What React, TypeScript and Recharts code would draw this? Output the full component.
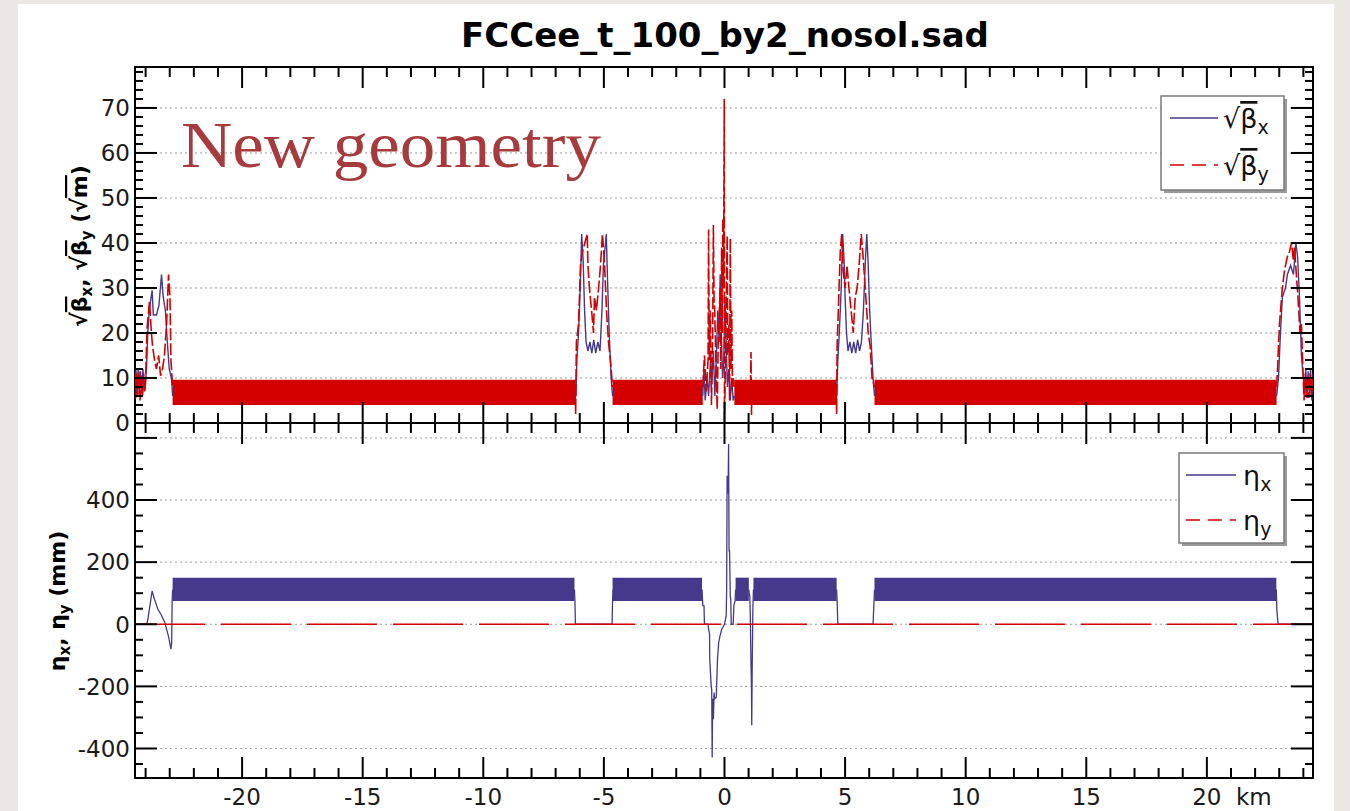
import {
  Area,
  ComposedChart,
  Line,
  ReferenceArea,
  ReferenceLine,
  XAxis,
  YAxis,
} from 'recharts'

type Pt = { s: number; v: number | null }

// optics along the ring, s in km from the IP; null breaks the trace over the arcs
const sqrtBetaX: [number, number | null][] = [
  [-24.44, 7], [-24.4, 12], [-24.36, 6.5], [-24.31, 12], [-24.26, 6], [-24.21, 11.5],
  [-24.16, 6.5], [-24.11, 12], [-24.06, 7], [-24.0, 9], [-23.95, 14], [-23.91, 20],
  [-23.85, 25], [-23.73, 29.5], [-23.68, 24], [-23.55, 24], [-23.45, 26], [-23.34, 33],
  [-23.27, 28], [-23.18, 25], [-23.1, 18], [-23.02, 12], [-22.93, 10], [-22.88, 6],
  [-14.5, null],
  [-6.16, 6], [-6.12, 14], [-6.05, 20], [-5.98, 30], [-5.92, 42], [-5.86, 36], [-5.8, 25],
  [-5.74, 18], [-5.66, 16], [-5.58, 18], [-5.5, 15.5], [-5.42, 18.5], [-5.34, 15.5],
  [-5.25, 18], [-5.16, 16], [-5.08, 25], [-5.02, 35], [-4.9, 42], [-4.85, 32], [-4.78, 20],
  [-4.7, 10], [-4.64, 6],
  [-2.8, null],
  [-0.9, 6], [-0.85, 12], [-0.8, 5], [-0.72, 10], [-0.66, 6], [-0.58, 14], [-0.54, 8],
  [-0.46, 16], [-0.4, 6], [-0.34, 14], [-0.28, 25], [-0.22, 18], [-0.18, 33], [-0.13, 20],
  [-0.08, 10], [-0.03, 14], [0.02, 28], [0.07, 18], [0.12, 8], [0.18, 12], [0.24, 5],
  [0.3, 10], [0.36, 5], [0.41, 6],
  [2.5, null],
  [4.65, 6], [4.7, 14], [4.76, 20], [4.84, 30], [4.9, 42], [4.96, 36], [5.0, 28], [5.06, 20],
  [5.12, 16], [5.2, 18], [5.28, 15.5], [5.36, 18], [5.44, 15.5], [5.52, 18.5], [5.6, 16],
  [5.68, 18], [5.76, 25], [5.84, 36], [5.9, 42], [5.96, 35], [6.02, 25], [6.1, 16],
  [6.16, 10], [6.22, 6],
  [14.5, null],
  [22.89, 6], [22.97, 10], [23.05, 20], [23.13, 28], [23.26, 30], [23.34, 33], [23.47, 35],
  [23.59, 33], [23.69, 40], [23.76, 37], [23.84, 28], [23.92, 15], [24.0, 10], [24.05, 6],
  [24.1, 12], [24.15, 5.5], [24.2, 11.5], [24.25, 6], [24.3, 12], [24.35, 5], [24.4, 11],
]

const sqrtBetaY: [number, number | null][] = [
  [-24.44, 10], [-24.41, 5.5], [-24.37, 11], [-24.33, 6], [-24.28, 11.5], [-24.23, 5],
  [-24.18, 10.5], [-24.13, 6], [-24.08, 11], [-24.03, 7], [-24.0, 10], [-23.94, 21],
  [-23.84, 27], [-23.76, 20], [-23.71, 17], [-23.63, 14], [-23.55, 12], [-23.46, 15],
  [-23.38, 10.5], [-23.3, 12], [-23.22, 15], [-23.13, 22], [-23.05, 33], [-22.99, 28],
  [-22.95, 14], [-22.88, 8],
  [-14.5, null],
  [-6.19, 8], [-6.17, 2], [-6.14, 18], [-6.05, 22], [-5.97, 35], [-5.89, 38], [-5.69, 42],
  [-5.66, 35], [-5.6, 30], [-5.51, 25], [-5.43, 20], [-5.39, 28], [-5.31, 25], [-5.22, 30],
  [-5.14, 35], [-5.06, 42], [-4.98, 36], [-4.89, 25], [-4.81, 18], [-4.73, 14], [-4.64, 8],
  [-2.8, null],
  [-0.9, 8], [-0.83, 15], [-0.76, 7], [-0.68, 14], [-0.66, 43], [-0.63, 14], [-0.59, 25],
  [-0.54, 4], [-0.49, 20], [-0.46, 44], [-0.43, 26], [-0.41, 26], [-0.34, 10], [-0.3, 3],
  [-0.26, 18], [-0.18, 30], [-0.15, 12], [-0.12, 39], [-0.09, 20], [-0.07, 45.5],
  [-0.04, 30], [-0.01, 72], [0.0, -1], [0.03, 10], [0.07, 25], [0.11, 41.6], [0.14, 15],
  [0.18, 22], [0.21, 5], [0.24, 41], [0.27, 12], [0.3, 25], [0.33, 8], [0.36, 10], [0.41, 8],
  [0.75, null],
  [1.08, 8], [1.1, 15.8], [1.12, 1.8], [1.14, 8],
  [2.9, null],
  [4.63, 8], [4.65, 2], [4.67, 17], [4.72, 25], [4.8, 38], [4.86, 42], [4.92, 34], [5.0, 30],
  [5.08, 35], [5.16, 30], [5.25, 25], [5.34, 20], [5.42, 28], [5.5, 30], [5.58, 35],
  [5.67, 42], [5.76, 36], [5.86, 28], [5.96, 20], [6.04, 17], [6.12, 10], [6.22, 8],
  [14.5, null],
  [22.89, 8], [22.93, 12], [23.01, 22], [23.13, 30], [23.22, 34], [23.34, 37], [23.42, 38],
  [23.51, 40], [23.59, 36], [23.63, 39], [23.71, 33], [23.8, 26], [23.86, 20], [23.92, 22],
  [23.98, 12], [24.03, 5], [24.08, 11], [24.13, 6], [24.18, 10.5], [24.23, 5.5], [24.28, 11],
  [24.33, 6], [24.38, 10], [24.4, 7],
]

// arc cells: beta oscillates too fast to resolve, drawn as its envelope
const betaArcs: [number, number][] = [[-22.88, -6.16], [-4.64, -0.9], [0.41, 4.65], [6.22, 22.89]]
const betaEnvelope: [number, number] = [4.0, 9.6]

const etaX: [number, number | null][] = [
  [-24.44, 0], [-23.95, 0], [-23.9, 20], [-23.73, 107], [-23.65, 85], [-23.5, 50],
  [-23.35, 30], [-23.2, 5], [-23.05, -40], [-22.95, -80], [-22.92, -60], [-22.9, 75],
  [-22.88, 110], [-6.22, 110], [-6.2, 75], [-6.18, 0], [-4.66, 0], [-4.64, 75], [-4.62, 110],
  [-0.93, 110], [-0.9, 60], [-0.85, 60], [-0.83, 0], [-0.68, 0], [-0.66, -16], [-0.62, -30],
  [-0.61, -113], [-0.55, -200], [-0.53, -210], [-0.51, -429], [-0.49, -240], [-0.46, -306],
  [-0.43, -220], [-0.41, -240], [-0.34, -235], [-0.31, -160], [-0.29, -113], [-0.24, -58],
  [-0.18, -36], [-0.11, -15], [-0.03, -5], [0.0, 0], [0.07, 27], [0.09, 113], [0.11, 478],
  [0.15, 420], [0.17, 580], [0.19, 236], [0.21, 236], [0.24, 91], [0.26, 80], [0.28, 0],
  [0.36, 0], [0.39, 60], [0.44, 75], [0.46, 110], [1.01, 110], [1.02, 103], [1.05, 90],
  [1.07, 27], [1.1, -130], [1.12, -200], [1.13, -325], [1.15, -130], [1.17, 0], [1.18, 60],
  [1.2, 110], [4.65, 110], [4.67, 75], [4.7, 0], [6.16, 0], [6.2, 75], [6.22, 110],
  [22.88, 110], [22.9, 48], [22.95, 0], [24.4, 0],
]
const etaY: [number, number][] = [[-24.44, 0], [24.4, 0]]

const etaArcs: [number, number][] = [[-22.88, -6.22], [-4.64, -0.93], [0.46, 1.01], [1.2, 4.65], [6.22, 22.88]]
const etaEnvelope: [number, number] = [75, 150]

const X_MIN = -24.44
const X_MAX = 24.4
const BETA_MAX = 79.1
const ETA_MIN = -495
const ETA_MAX = 648

const range = (a: number, b: number, step: number) => {
  const out: number[] = []
  for (let v = a; v <= b + 1e-9; v += step) out.push(Math.round(v * 100) / 100)
  return out
}
const kmTicks = range(-24, 24, 1)
const betaTicks = range(0, 78, 2)
const betaGrid = [10, 20, 30, 40, 50, 60, 70]
const etaTicks = range(-450, 600, 50)
const etaGrid = [-400, -200, 0, 200, 400, 600]

const BLUE = '#46398c'
const RED = '#d40000'
const PLOT_W = 1313 - 135
const TICK_FONT = 'DejaVu Sans'

const toPts = (rows: [number, number | null][]): Pt[] => rows.map(([s, v]) => ({ s, v }))
const bandData = (span: [number, number], env: [number, number]) =>
  span.map((s) => ({ s, band: env }))

// ticks drawn inward on both the axis side and the opposite frame side
const kmTick = (plotH: number, withLabels: boolean) => (p: any) => {
  const { x, y, payload } = p
  const v = payload.value as number
  const major = v % 5 === 0
  const len = major ? 21 : 10
  return (
    <g>
      <line x1={x} x2={x} y1={y} y2={y - len} stroke="#000" strokeWidth={2} />
      <line x1={x} x2={x} y1={y - plotH} y2={y - plotH + len} stroke="#000" strokeWidth={2} />
      {withLabels && major && (
        <text x={x} y={y + 27} textAnchor="middle" fontFamily={TICK_FONT} fontSize={23} fill="#1a1a1a">
          {v}
        </text>
      )}
    </g>
  )
}

const valueTick = (majorStep: number, labelMax: number) => (p: any) => {
  const { x, y, payload } = p
  const v = payload.value as number
  const major = v % majorStep === 0
  const len = major ? 22 : 8
  const xr = x + PLOT_W
  return (
    <g>
      <line x1={x} x2={x + len} y1={y} y2={y} stroke="#000" strokeWidth={2} />
      <line x1={xr} x2={xr - len} y1={y} y2={y} stroke="#000" strokeWidth={2} />
      {major && v <= labelMax && (
        <text x={x - 5} y={y} dy="0.36em" textAnchor="end" fontFamily={TICK_FONT} fontSize={23} fill="#1a1a1a">
          {v}
        </text>
      )}
    </g>
  )
}

const gridLine = (v: number) => (
  <ReferenceLine key={v} y={v} stroke="#9a9a9a" strokeWidth={1} strokeDasharray="2 3" />
)

function BetaPanel() {
  return (
    <ComposedChart width={1350} height={440} margin={{ top: 67, right: 37, bottom: 0, left: 0 }}>
      <XAxis
        type="number"
        dataKey="s"
        domain={[X_MIN, X_MAX]}
        allowDataOverflow
        ticks={kmTicks}
        interval={0}
        height={17}
        tickSize={0}
        tickMargin={0}
        axisLine={false}
        tickLine={false}
        tick={kmTick(356, false)}
      />
      <YAxis
        type="number"
        domain={[0, BETA_MAX]}
        allowDataOverflow
        ticks={betaTicks}
        interval={0}
        width={135}
        tickSize={0}
        tickMargin={0}
        axisLine={false}
        tickLine={false}
        tick={valueTick(10, 70)}
      />
      {betaGrid.map(gridLine)}
      <Line
        data={toPts(sqrtBetaX)}
        dataKey="v"
        type="linear"
        stroke={BLUE}
        strokeWidth={1.4}
        dot={false}
        isAnimationActive={false}
      />
      {betaArcs.map((span, i) => (
        <Area
          key={`ba${i}`}
          data={bandData(span, betaEnvelope)}
          dataKey="band"
          type="linear"
          stroke="none"
          fill={RED}
          fillOpacity={1}
          dot={false}
          activeDot={false}
          isAnimationActive={false}
        />
      ))}
      <Line
        data={toPts(sqrtBetaY)}
        dataKey="v"
        type="linear"
        stroke={RED}
        strokeWidth={1.6}
        strokeDasharray="12 3"
        dot={false}
        isAnimationActive={false}
      />
      <ReferenceArea x1={X_MIN} x2={X_MAX} y1={0} y2={BETA_MAX} fill="none" stroke="#000" strokeWidth={2} ifOverflow="visible" />
    </ComposedChart>
  )
}

function EtaPanel() {
  return (
    <ComposedChart width={1350} height={398} margin={{ top: 10, right: 37, bottom: 0, left: 0 }}>
      <XAxis
        type="number"
        dataKey="s"
        domain={[X_MIN, X_MAX]}
        allowDataOverflow
        ticks={kmTicks}
        interval={0}
        height={33}
        tickSize={0}
        tickMargin={0}
        axisLine={false}
        tickLine={false}
        tick={kmTick(355, true)}
      />
      <YAxis
        type="number"
        domain={[ETA_MIN, ETA_MAX]}
        allowDataOverflow
        ticks={etaTicks}
        interval={0}
        width={135}
        tickSize={0}
        tickMargin={0}
        axisLine={false}
        tickLine={false}
        tick={valueTick(200, 400)}
      />
      {etaGrid.map(gridLine)}
      {etaArcs.map((span, i) => (
        <Area
          key={`ea${i}`}
          data={bandData(span, etaEnvelope)}
          dataKey="band"
          type="linear"
          stroke="none"
          fill={BLUE}
          fillOpacity={1}
          dot={false}
          activeDot={false}
          isAnimationActive={false}
        />
      ))}
      <Line
        data={toPts(etaX)}
        dataKey="v"
        type="linear"
        stroke={BLUE}
        strokeWidth={1.3}
        dot={false}
        isAnimationActive={false}
      />
      <Line
        data={toPts(etaY)}
        dataKey="v"
        type="linear"
        stroke={RED}
        strokeWidth={1.5}
        strokeDasharray="70 16"
        dot={false}
        isAnimationActive={false}
      />
      <ReferenceArea x1={X_MIN} x2={X_MAX} y1={ETA_MIN} y2={ETA_MAX} fill="none" stroke="#000" strokeWidth={2} ifOverflow="visible" />
    </ComposedChart>
  )
}

const over = { textDecoration: 'overline' } as const

function Annotations() {
  return (
    <svg width={1350} height={811} style={{ position: 'absolute', left: 0, top: 0, pointerEvents: 'none' }}>
      <text x={725} y={47} textAnchor="middle" fontFamily="DejaVu Sans" fontWeight="bold" fontSize={34} fill="#000">
        FCCee_t_100_by2_nosol.sad
      </text>
      <text x={181} y={167} fontFamily="Liberation Serif" fontSize={66} fill="#a63a3c" textLength={420} lengthAdjust="spacingAndGlyphs">
        New geometry
      </text>

      <text transform="translate(87,246) rotate(-90)" textAnchor="middle" fontFamily="DejaVu Sans" fontWeight="bold" fontSize={22} fill="#000">
        √<tspan style={over}>β</tspan>
        <tspan dy={5} fontSize={15}>x</tspan>
        <tspan dy={-5}>, √</tspan>
        <tspan style={over}>β</tspan>
        <tspan dy={5} fontSize={15}>y</tspan>
        <tspan dy={-5}> (√</tspan>
        <tspan style={over}>m</tspan>)
      </text>
      <text transform="translate(65,601) rotate(-90)" textAnchor="middle" fontFamily="DejaVu Sans" fontWeight="bold" fontSize={22} fill="#000">
        η<tspan dy={5} fontSize={15}>x</tspan>
        <tspan dy={-5}>, η</tspan>
        <tspan dy={5} fontSize={15}>y</tspan>
        <tspan dy={-5}> (mm)</tspan>
      </text>

      <text x={1236} y={805} fontFamily={TICK_FONT} fontSize={23} fill="#1a1a1a">km</text>

      {/* legend, upper panel */}
      <rect x={1164} y={99} width={123} height={94} fill="#9a9a9a" />
      <rect x={1161} y={96} width={123} height={94} fill="#fff" stroke="#7a7a7a" strokeWidth={1.5} />
      <line x1={1170} x2={1218} y1={118} y2={118} stroke={BLUE} strokeWidth={1.5} />
      <text x={1223} y={128} fontFamily={TICK_FONT} fontSize={27} fill="#111">
        √<tspan style={over}>β</tspan>
        <tspan dy={6} fontSize={19}>x</tspan>
      </text>
      <line x1={1170} x2={1218} y1={165} y2={165} stroke={RED} strokeWidth={1.5} strokeDasharray="14 8" />
      <text x={1223} y={175} fontFamily={TICK_FONT} fontSize={27} fill="#111">
        √<tspan style={over}>β</tspan>
        <tspan dy={6} fontSize={19}>y</tspan>
      </text>

      {/* legend, lower panel */}
      <rect x={1182} y={456} width={105} height={90} fill="#9a9a9a" />
      <rect x={1179} y={453} width={105} height={90} fill="#fff" stroke="#7a7a7a" strokeWidth={1.5} />
      <line x1={1186} x2={1236} y1={475} y2={475} stroke={BLUE} strokeWidth={1.5} />
      <text x={1243} y={485} fontFamily={TICK_FONT} fontSize={27} fill="#111">
        η<tspan dy={6} fontSize={19}>x</tspan>
      </text>
      <line x1={1186} x2={1236} y1={520} y2={520} stroke={RED} strokeWidth={1.5} strokeDasharray="14 8" />
      <text x={1243} y={530} fontFamily={TICK_FONT} fontSize={27} fill="#111">
        η<tspan dy={6} fontSize={19}>y</tspan>
      </text>
    </svg>
  )
}

export default function App() {
  return (
    <div style={{ position: 'absolute', left: 0, top: 0, width: 1350, height: 811, background: '#ebe7e2', overflow: 'hidden' }}>
      <div style={{ position: 'absolute', left: 18, top: 4, width: 1316, height: 807, background: '#fff' }} />
      <div style={{ position: 'absolute', left: 0, top: 0 }}>
        <BetaPanel />
      </div>
      <div style={{ position: 'absolute', left: 0, top: 413 }}>
        <EtaPanel />
      </div>
      <Annotations />
    </div>
  )
}
